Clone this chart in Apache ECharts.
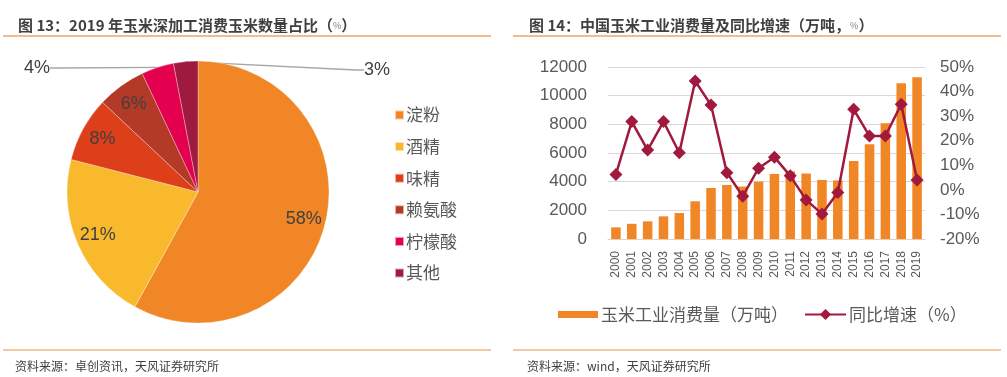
<!DOCTYPE html>
<html>
<head>
<meta charset="utf-8">
<script src="https://cdn.jsdelivr.net/npm/echarts@6/dist/echarts.min.js"></script>
<style>
  html, body { margin: 0; padding: 0; background: #fff; }
  #main { width: 1007px; height: 377px; }
</style>
</head>
<body>
<div id="main"></div>
<script>
// 图13 饼图数据
const pieNames = ['淀粉', '酒精', '味精', '赖氨酸', '柠檬酸', '其他'];
const pieValues = [58, 21, 8, 6, 4, 3];
const pieColors = ['#F08626', '#F9B92D', '#DD3F1B', '#B23A27', '#E3014F', '#A01A40'];

// 图14 柱线数据
const years = ['2000', '2001', '2002', '2003', '2004', '2005', '2006', '2007', '2008', '2009',
  '2010', '2011', '2012', '2013', '2014', '2015', '2016', '2017', '2018', '2019'];
const consumption = [810, 1060, 1230, 1580, 1810, 2630, 3560, 3770, 3660, 4000,
  4540, 4720, 4570, 4120, 4090, 5440, 6610, 8070, 10870, 11290];
const growth = [6.3, 27.8, 16.2, 27.8, 15.1, 44.3, 34.5, 7.0, -2.6, 8.8,
  13.3, 5.7, -4.1, -9.8, -1.1, 32.8, 21.9, 21.9, 34.8, 4.0];

const FONT = '"Noto Sans CJK SC", "Noto Sans", sans-serif';
const NUM_FONT = '"Liberation Sans", Arial, sans-serif';
const TXT = '#595959';

const chart = echarts.init(document.getElementById('main'), null, { renderer: 'canvas' });

const pieCenter = [198, 192];
const pieR = 131;

const option = {
  animation: false,
  textStyle: { fontFamily: FONT },
  title: [
    {
      text: '图 13：2019 年玉米深加工消费玉米数量占比（{s|%}）',
      left: 13, top: 13,
      textStyle: {
        fontFamily: FONT, fontSize: 15, fontWeight: 'bold', color: '#404040',
        rich: { s: { fontSize: 9, color: '#7f7f7f', fontWeight: 'normal', fontFamily: FONT } }
      }
    },
    {
      text: '图 14：中国玉米工业消费量及同比增速（万吨，{s|%}）',
      left: 524, top: 13,
      textStyle: {
        fontFamily: FONT, fontSize: 15, fontWeight: 'bold', color: '#404040',
        rich: { s: { fontSize: 9, color: '#7f7f7f', fontWeight: 'normal', fontFamily: FONT } }
      }
    },
    {
      text: '资料来源：卓创资讯，天风证券研究所',
      left: 10, top: 355,
      textStyle: { fontFamily: FONT, fontSize: 12, fontWeight: 'normal', color: '#404040' }
    },
    {
      text: '资料来源：wind，天风证券研究所',
      left: 522, top: 355,
      textStyle: { fontFamily: FONT, fontSize: 12, fontWeight: 'normal', color: '#404040' }
    }
  ],
  graphic: [
    { type: 'line', shape: { x1: 3, y1: 36, x2: 491, y2: 36 }, style: { stroke: '#EFA468', lineWidth: 1.5 } },
    { type: 'line', shape: { x1: 513, y1: 36, x2: 1001, y2: 36 }, style: { stroke: '#EFA468', lineWidth: 1.5 } },
    { type: 'line', shape: { x1: 3, y1: 350, x2: 491, y2: 350 }, style: { stroke: '#EFB886', lineWidth: 1.5 } },
    { type: 'line', shape: { x1: 513, y1: 350, x2: 1001, y2: 350 }, style: { stroke: '#EFB886', lineWidth: 1.5 } }
  ],
  legend: [
    {
      orient: 'vertical',
      left: 389, top: 100,
      itemWidth: 9, itemHeight: 9, itemGap: 11.6,
      icon: 'rect',
      data: pieNames,
      textStyle: { fontFamily: FONT, fontSize: 17, color: TXT, lineHeight: 20, padding: [0, 0, 0, -3] }
    },
    {
      left: 553, top: 301,
      data: [{ name: '玉米工业消费量（万吨）', icon: 'rect' }],
      itemWidth: 40, itemHeight: 7,
      textStyle: { fontFamily: FONT, fontSize: 17, color: TXT, padding: [0, 0, 0, -2] }
    },
    {
      left: 799, top: 301,
      data: ['同比增速（%）'],
      itemWidth: 41, itemHeight: 14,
      textStyle: { fontFamily: FONT, fontSize: 17, color: TXT, padding: [0, 0, 0, -2] }
    }
  ],
  grid: { left: 608, right: 82, top: 67, bottom: 138 },
  xAxis: {
    type: 'category',
    data: years,
    axisLine: { lineStyle: { color: '#E5D0C0', width: 1 } },
    axisTick: { show: false },
    axisLabel: { rotate: 90, margin: 12, fontSize: 12, color: TXT, fontFamily: NUM_FONT }
  },
  yAxis: [
    {
      type: 'value', min: 0, max: 12000, interval: 2000,
      axisLine: { show: false }, axisTick: { show: false },
      splitLine: { lineStyle: { color: '#D9D9D9', width: 1 } },
      axisLabel: { fontSize: 17, color: TXT, margin: 21, fontFamily: NUM_FONT,
        formatter: v => String(v) }
    },
    {
      type: 'value', min: -20, max: 50, interval: 10,
      axisLine: { show: false }, axisTick: { show: false },
      splitLine: { show: false },
      axisLabel: { fontSize: 17, color: TXT, margin: 15, fontFamily: NUM_FONT, formatter: '{value}%' }
    }
  ],
  series: [
    {
      name: 'pie',
      type: 'pie',
      center: pieCenter,
      radius: pieR,
      startAngle: 90,
      label: { show: false },
      labelLine: { show: false },
      itemStyle: { borderColor: 'rgba(255,255,255,0.6)', borderWidth: 0.5 },
      emphasis: { disabled: true },
      data: pieNames.map((n, i) => ({ name: n, value: pieValues[i], itemStyle: { color: pieColors[i] } }))
    },
    {
      name: 'pieLabels',
      type: 'pie',
      center: pieCenter,
      radius: [pieR * 0.62, pieR],
      startAngle: 90,
      silent: true,
      emphasis: { disabled: true },
      itemStyle: { color: 'rgba(0,0,0,0)' },
      label: {
        show: true, position: 'inside', formatter: '{c}%',
        fontSize: 18, color: '#404040', fontFamily: NUM_FONT
      },
      labelLine: { show: false },
      labelLayout: function (p) {
        if (p.seriesIndex !== 1) return {};
        if (p.dataIndex === 4) return { x: 24, y: 68, align: 'left', verticalAlign: 'middle' };
        if (p.dataIndex === 5) return { x: 390, y: 70, align: 'right', verticalAlign: 'middle' };
        return {};
      },
      data: pieNames.map((n, i) => {
        const item = { name: n, value: pieValues[i], itemStyle: { color: 'rgba(0,0,0,0)' } };
        if (i >= 4) {
          item.label = { position: 'outside' };
          item.labelLine = { show: true, length: 8, length2: 8, lineStyle: { color: '#A6A6A6', width: 1.3 } };
        }
        return item;
      })
    },
    {
      name: '玉米工业消费量（万吨）',
      type: 'bar',
      data: consumption,
      barWidth: '60%',
      itemStyle: { color: '#F08626' }
    },
    {
      name: '同比增速（%）',
      type: 'line',
      yAxisIndex: 1,
      data: growth,
      symbol: 'diamond',
      symbolSize: 13,
      lineStyle: { color: '#A1193C', width: 2.5 },
      itemStyle: { color: '#A1193C' }
    }
  ]
};

chart.setOption(option);
</script>
</body>
</html>
